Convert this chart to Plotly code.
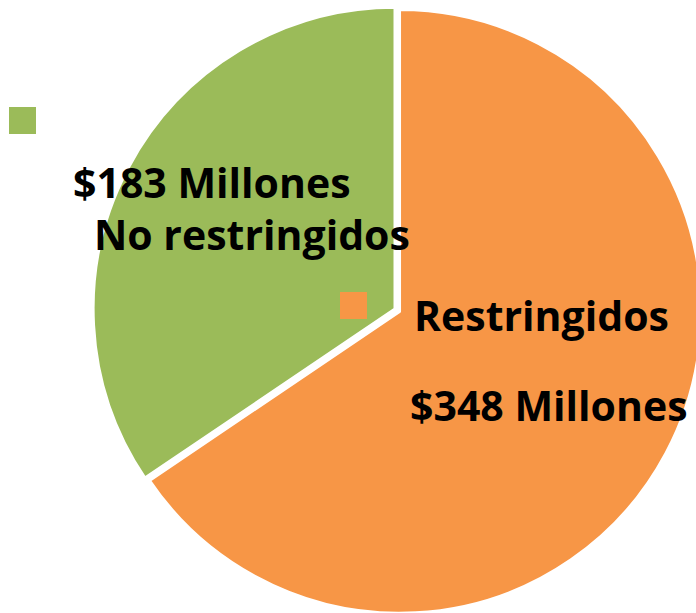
import plotly.graph_objects as go

# Data
categories = ["Restringidos", "No restringidos"]
values = [348, 183]
value_labels = ["$348 Millones", "$183 Millones"]
colors = ["#F79646", "#9BBB59"]

W, H = 790, 616
T, B = 2, 0
PH = H - T - B

def px(x):
    return x / W

def py(y):
    return (H - B - y) / PH

fig = go.Figure()
fig.add_trace(go.Pie(
    labels=categories,
    values=values,
    sort=False,
    direction="clockwise",
    rotation=0,
    pull=[0.017, 0],
    marker=dict(colors=colors, line=dict(color="white", width=3)),
    textinfo="none",
    hoverinfo="label+value",
    showlegend=False,
))

font = dict(family="Open Sans", size=41, color="black")
ann = [
    ("<b>" + value_labels[1] + "</b>", 212, 182),
    ("<b>" + "No restringidos" + "</b>", 252, 234),
    ("<b>" + categories[0] + "</b>", 541, 315),
    ("<b>" + value_labels[0] + "</b>", 549, 405),
]
for text, x, y in ann:
    fig.add_annotation(text=text, x=px(x), y=py(y), xref="paper", yref="paper",
                       showarrow=False, xanchor="center", yanchor="middle", font=font)

# legend-like squares
for (x0, y0, c) in [(9, 107, colors[1]), (340, 292, colors[0])]:
    fig.add_shape(type="rect", xref="paper", yref="paper",
                  x0=px(x0), x1=px(x0 + 27), y0=py(y0 + 27), y1=py(y0),
                  fillcolor=c, line=dict(width=0), layer="above")

fig.update_layout(
    width=W, height=H,
    margin=dict(l=0, r=0, t=T, b=B),
    paper_bgcolor="white",
    plot_bgcolor="white",
)

fig.write_html("out.html",
               post_script="document.body.style.margin='0';document.body.style.overflow='hidden';document.documentElement.style.overflow='hidden';")
